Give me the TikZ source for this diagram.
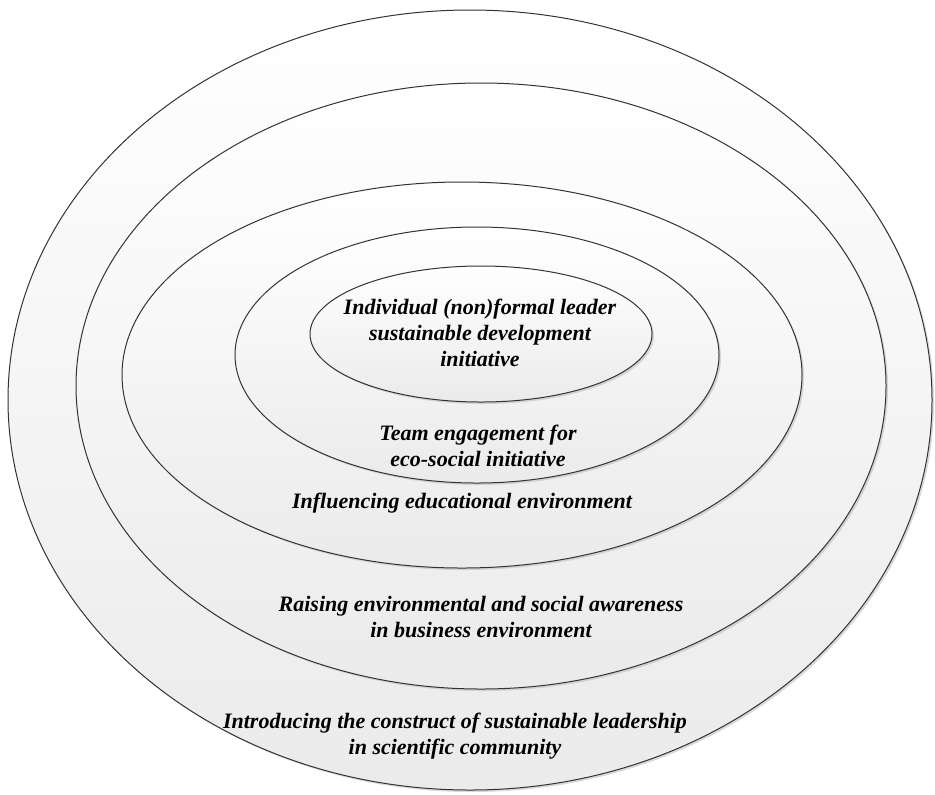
\documentclass[tikz,border=0pt]{standalone}
\usepackage{fontspec}
\setmainfont{Liberation Serif}
\usetikzlibrary{shadows}
\tikzset{
  ring/.style={draw=black!80, line width=0.5pt, top color=white, bottom color=black!8,
    drop shadow={shadow xshift=1pt, shadow yshift=-1pt, fill=black!25, opacity=0.6}},
  lbl/.style={align=center, font=\fontsize{11}{13}\selectfont\bfseries\itshape}
}
\begin{document}
\begin{tikzpicture}[x=0.5pt, y=-0.5pt]
		\useasboundingbox (0,0) rectangle (935,794);

		\path[ring] (470,400) ellipse [x radius=231pt, y radius=195pt];
		\path[ring] (481,386) ellipse [x radius=202.5pt, y radius=151.5pt];
		\path[ring] (462,375) ellipse [x radius=170pt, y radius=96.5pt];
		\path[ring] (477,355) ellipse [x radius=121pt, y radius=64pt];
		\path[ring] (481,334) ellipse [x radius=85.5pt, y radius=34pt];

		\node[lbl] (leader) at (480,333){Individual (non)formal leader\\sustainable development\\initiative};
		\node[lbl] (team) at (478,446){Team engagement for\\eco-social initiative};
		\node[lbl] (school) at (462,503){Influencing educational environment};
		\node[lbl] (business) at (481,617){Raising environmental and social awareness\\in business environment};
		\node[lbl] (science) at (455,736){Introducing the construct of sustainable leadership\\in scientific community};
	\end{tikzpicture}
\end{document}
